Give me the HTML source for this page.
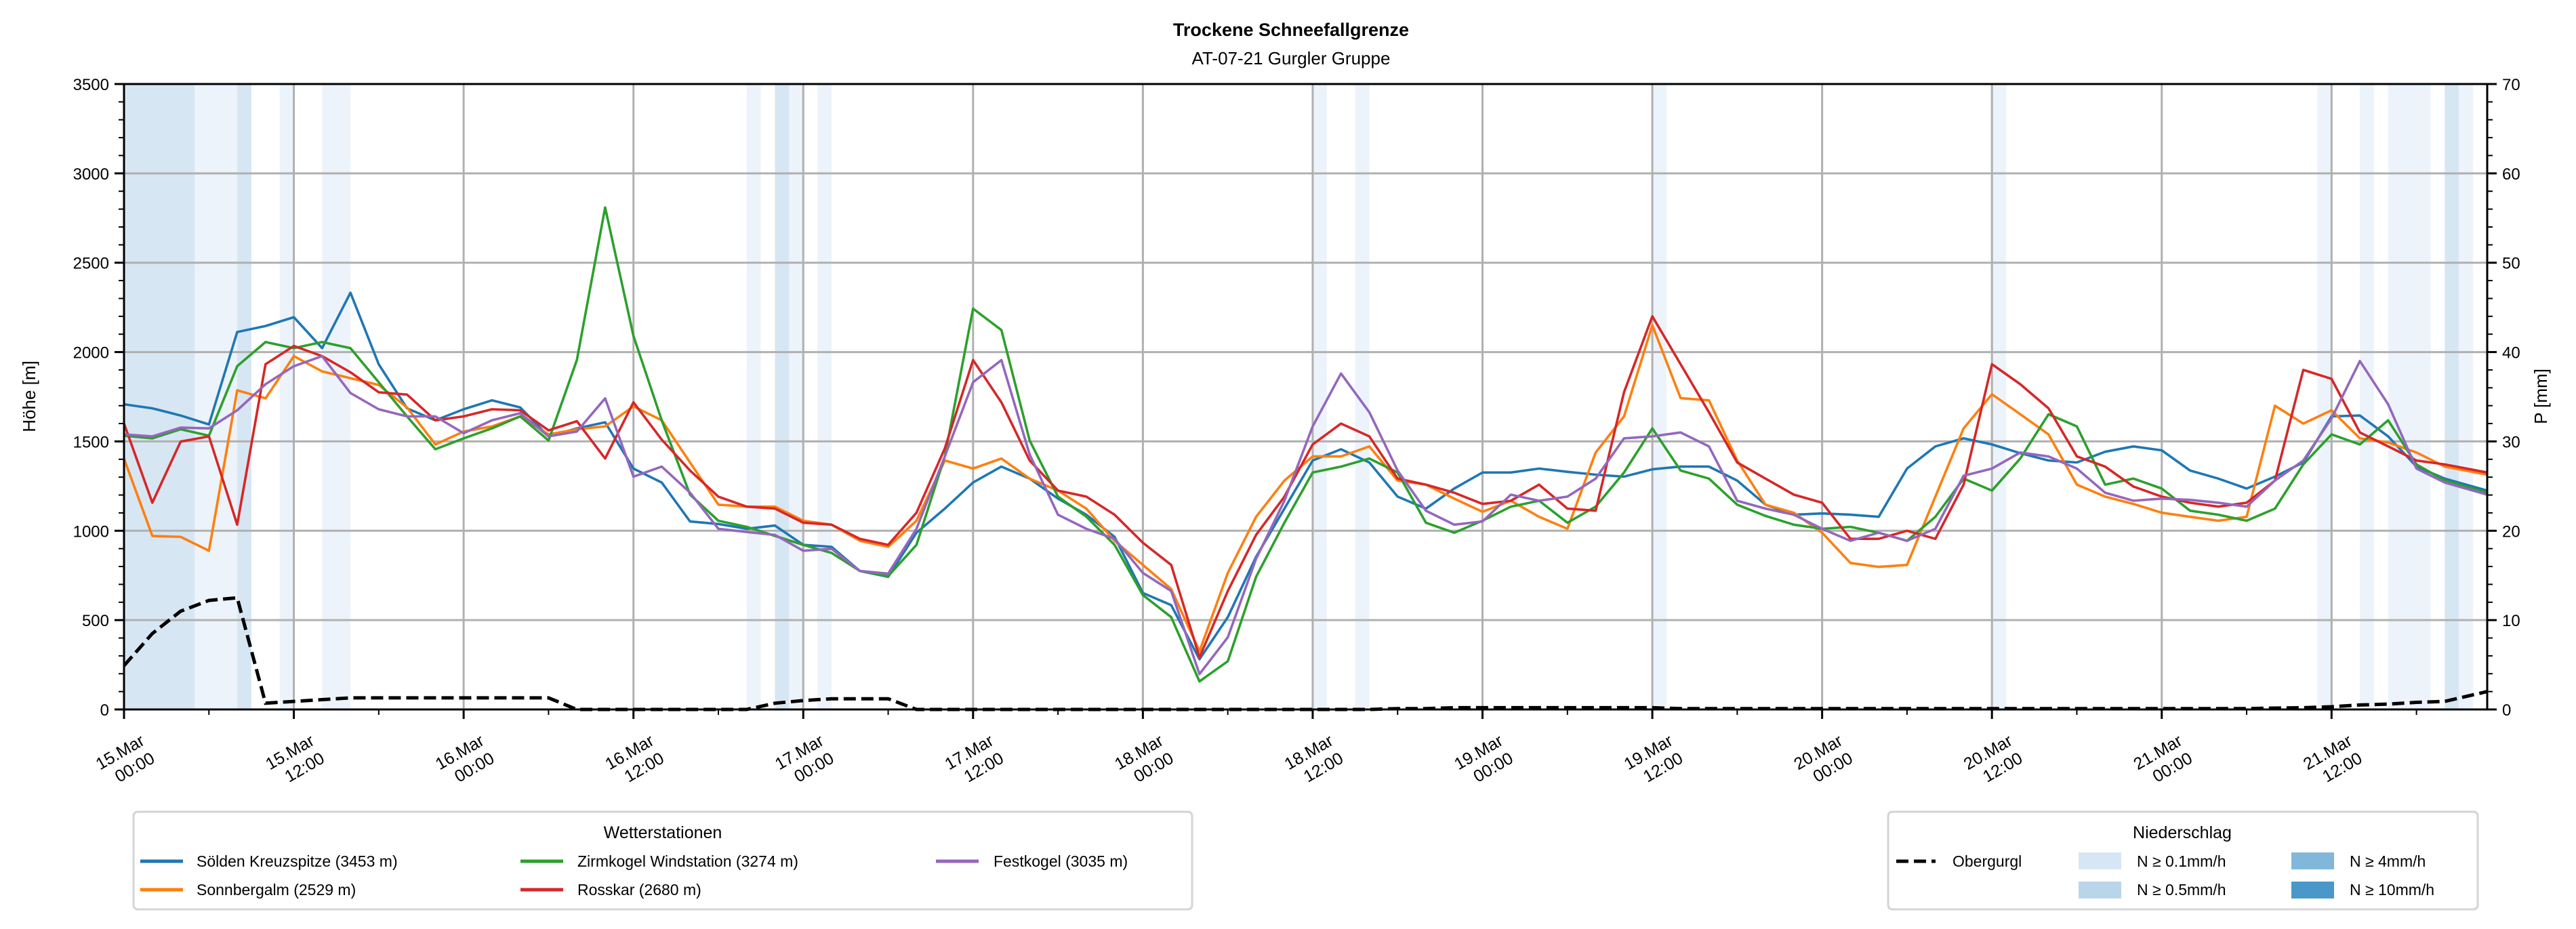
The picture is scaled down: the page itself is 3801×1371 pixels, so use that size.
<!DOCTYPE html>
<html><head><meta charset="utf-8"><style>
html,body{margin:0;padding:0;background:#fff}
svg{display:block;font-family:"Liberation Sans","DejaVu Sans",sans-serif}
</style></head><body>
<svg id="chart" width="3801" height="1371" viewBox="0 0 3801 1371">
<g id="bands"></g>
<g id="grid"></g>
<g id="series"></g>
<g id="axes"></g>
<text x="1905" y="53" text-anchor="middle" font-size="27" font-weight="bold">Trockene Schneefallgrenze</text>
<text x="1905" y="95" text-anchor="middle" font-size="26">AT-07-21 Gurgler Gruppe</text>
<text transform="translate(52,585) rotate(-90)" text-anchor="middle" font-size="26">Höhe [m]</text>
<text transform="translate(3758,585) rotate(-90)" text-anchor="middle" font-size="26">P [mm]</text>

<g>
<rect x="197" y="1198" width="1562" height="144" rx="6" fill="#fff" stroke="#d4d4d4" stroke-width="3"/>
<text x="978" y="1237" text-anchor="middle" font-size="25">Wetterstationen</text>
<g><line x1="207" x2="270" y1="1271" y2="1271" stroke="#1f77b4" stroke-width="5"/><text x="290" y="1279" font-size="23">Sölden Kreuzspitze (3453 m)</text></g>
<g><line x1="207" x2="270" y1="1313" y2="1313" stroke="#ff7f0e" stroke-width="5"/><text x="290" y="1321" font-size="23">Sonnbergalm (2529 m)</text></g>
<g><line x1="768" x2="831" y1="1271" y2="1271" stroke="#2ca02c" stroke-width="5"/><text x="852" y="1279" font-size="23">Zirmkogel Windstation (3274 m)</text></g>
<g><line x1="768" x2="831" y1="1313" y2="1313" stroke="#d62728" stroke-width="5"/><text x="852" y="1321" font-size="23">Rosskar (2680 m)</text></g>
<g><line x1="1381" x2="1444" y1="1271" y2="1271" stroke="#9467bd" stroke-width="5"/><text x="1466" y="1279" font-size="23">Festkogel (3035 m)</text></g>
</g>

<g>
<rect x="2786" y="1198" width="870" height="144" rx="6" fill="#fff" stroke="#d4d4d4" stroke-width="3"/>
<text x="3220" y="1237" text-anchor="middle" font-size="25">Niederschlag</text>
<g><line x1="2798" x2="2856" y1="1271" y2="1271" stroke="#000" stroke-width="5" stroke-dasharray="18,8"/><text x="2881" y="1279" font-size="23">Obergurgl</text></g>
<g><rect x="3067" y="1258" width="63" height="25" fill="#d6e6f4"/><text x="3153" y="1279" font-size="23">N ≥ 0.1mm/h</text></g>
<g><rect x="3067" y="1301" width="63" height="25" fill="#b9d5ea"/><text x="3153" y="1321" font-size="23">N ≥ 0.5mm/h</text></g>
<g><rect x="3381" y="1258" width="63" height="25" fill="#80b7da"/><text x="3467" y="1279" font-size="23">N ≥ 4mm/h</text></g>
<g><rect x="3381" y="1301" width="63" height="25" fill="#4a98c9"/><text x="3467" y="1321" font-size="23">N ≥ 10mm/h</text></g>
</g>
</svg>
<script>
const hours = [0,2,4,6,8,10,12,14,16,18,20,22,24,26,28,30,32,34,36,38,40,42,44,46,48,50,52,54,56,58,60,62,64,66,68,70,72,74,76,78,80,82,84,86,88,90,92,94,96,98,100,102,104,106,108,110,112,114,116,118,120,122,124,126,128,130,132,134,136,138,140,142,144,146,148,150,152,154,156,158,160,162,164,167];
const soelden = [1708,1685,1645,1595,2112,2146,2195,2022,2332,1932,1685,1618,1680,1730,1690,1528,1573,1607,1348,1270,1052,1038,
 1011,1029,921,910,775,742,989,1124,1270,1359,1292,1180,1090,966,652,584,281,517,854,1124,1393,
 1456,1382,1191,1124,1236,1326,1326,1348,1330,1314,1303,1344,1359,1359,1281,1146,1090,1097,1090,1078,1348,
 1472,1517,1483,1434,1393,1382,1442,1472,1450,1337,1292,1236,1303,1382,1640,1645,1528,1359,1292,1225];
const sonnbergalm = [1404,971,966,888,1786,1741,1977,1892,1854,1816,1690,1483,1555,1584,1640,1539,1568,1584,1696,1618,1382,1146,
 1135,1135,1056,1034,944,910,1056,1393,1348,1404,1292,1225,1124,944,809,674,326,764,1078,1281,1416,
 1416,1472,1281,1258,1180,1106,1168,1078,1011,1438,1640,2150,1742,1730,1393,1146,1101,989,820,798,809,
 1191,1573,1764,1652,1539,1258,1191,1150,1101,1078,1056,1078,1700,1600,1674,1517,1494,1438,1359,1314];
const zirmkogel = [1532,1517,1568,1532,1921,2056,2022,2056,2022,1831,1640,1456,1517,1573,1640,1505,1955,2809,2090,1618,1202,1056,
 1022,971,921,876,775,746,921,1416,2243,2123,1505,1191,1079,921,640,517,157,270,742,1045,1326,
 1359,1404,1326,1045,989,1056,1135,1168,1045,1135,1326,1573,1337,1292,1146,1083,1034,1011,1022,989,944,
 1078,1292,1225,1404,1652,1584,1258,1292,1236,1112,1090,1056,1124,1371,1539,1483,1618,1371,1281,1213];
const rosskar = [1600,1157,1499,1528,1034,1932,2034,1977,1887,1775,1762,1618,1640,1680,1674,1562,1613,1404,1719,1510,1337,1191,
 1135,1124,1045,1034,955,921,1101,1461,1955,1719,1393,1225,1191,1090,933,809,292,663,977,1191,1483,
 1600,1528,1292,1258,1213,1150,1168,1258,1124,1112,1775,2200,1932,1663,1382,1292,1202,1157,955,955,1000,
 955,1258,1932,1820,1685,1416,1359,1247,1191,1157,1135,1157,1281,1900,1850,1550,1472,1393,1371,1326];
const festkogel = [1539,1528,1577,1573,1674,1820,1921,1977,1771,1680,1640,1640,1546,1618,1658,1528,1555,1741,1303,1359,1213,1011,
 993,977,888,899,775,760,1011,1416,1831,1955,1427,1090,1011,955,764,663,198,404,843,1168,1584,
 1880,1663,1337,1112,1034,1052,1202,1168,1191,1292,1517,1528,1550,1472,1168,1124,1090,1011,944,989,944,
 1011,1308,1348,1438,1416,1348,1213,1168,1180,1173,1157,1135,1281,1393,1629,1950,1708,1348,1270,1202];
const precipObergurgl = [4.9,8.5,11,12.2,12.5,0.7,0.9,1.1,1.3,1.3,1.3,1.3,1.3,1.3,1.3,1.3,0,0,0,0,0,0,
 0,0.7,1.0,1.2,1.2,1.2,0,0,0,0,0,0,0,0,0,0,0,0,0,0,0,
 0,0,0.1,0.1,0.2,0.2,0.2,0.2,0.2,0.2,0.2,0.2,0.1,0.1,0.1,0.1,0.1,0.1,0.1,0.1,0.1,
 0.1,0.1,0.1,0.1,0.1,0.1,0.1,0.1,0.1,0.1,0.1,0.1,0.15,0.2,0.3,0.5,0.6,0.8,0.9,2.0];
const bandStart = [0,5,8,11,14,44,46,47,49,84,87,108,132,155,158,160,164,165];
const bandEnd   = [5,8,9,12,16,45,47,48,50,85,88,109,133,156,159,163,165,166];
const bandLevel = [1,0,1,0,0,0,1,0,0,0,0,0,0,0,0,0,1,0];
const yTicks = [0,500,1000,1500,2000,2500,3000,3500];
const y2Ticks = [0,10,20,30,40,50,60,70];
const xTickHours = [0,12,24,36,48,60,72,84,96,108,120,132,144,156];
const xTickLabels = [["15.Mar","00:00"],["15.Mar","12:00"],["16.Mar","00:00"],["16.Mar","12:00"],["17.Mar","00:00"],["17.Mar","12:00"],["18.Mar","00:00"],["18.Mar","12:00"],["19.Mar","00:00"],["19.Mar","12:00"],["20.Mar","00:00"],["20.Mar","12:00"],["21.Mar","00:00"],["21.Mar","12:00"]];

const L=183,R=3670,T=124,B=1047,XMAX=167;
const NS="http://www.w3.org/2000/svg";
const X=h=>L+(R-L)*h/XMAX;
const Y=v=>B-(B-T)*v/3500;
const Y2=v=>B-(B-T)*v/70;
function mk(tag,attrs,parent){const e=document.createElementNS(NS,tag);for(const k in attrs)e.setAttribute(k,attrs[k]);parent.appendChild(e);return e;}
const gB=document.getElementById('bands'),gG=document.getElementById('grid'),gS=document.getElementById('series'),gA=document.getElementById('axes');
const bandColors=['#edf3fa','#d7e6f3'];
bandStart.forEach((s,i)=>{
  const r=mk('rect',{x:X(s),y:T,width:X(bandEnd[i])-X(s),height:B-T,fill:bandColors[bandLevel[i]]},gB);
  
  
});
yTicks.forEach(v=>{
  const l=mk('line',{x1:L,x2:R,y1:Y(v),y2:Y(v),stroke:'#b0b0b0','stroke-width':3},gG);
  
  
});
xTickHours.forEach(h=>{
  const l=mk('line',{x1:X(h),x2:X(h),y1:T,y2:B,stroke:'#b0b0b0','stroke-width':3},gG);
  
  
});
const series=[[soelden,'#1f77b4','soelden-line'],[sonnbergalm,'#ff7f0e','sonnbergalm-line'],[zirmkogel,'#2ca02c','zirmkogel-line'],[rosskar,'#d62728','rosskar-line'],[festkogel,'#9467bd','festkogel-line']];
series.forEach(s=>{
  const d=s[0].map((v,i)=>(i?'L':'M')+X(hours[i]).toFixed(1)+','+Y(v).toFixed(1)).join('');
  const p=mk('path',{d:d,fill:'none',stroke:s[1],'stroke-width':3.6,'stroke-linejoin':'round'},gS);
  
  
});
{
  const d=precipObergurgl.map((v,i)=>(i?'L':'M')+X(hours[i]).toFixed(1)+','+Y2(v).toFixed(1)).join('');
  const p=mk('path',{d:d,fill:'none',stroke:'#000','stroke-width':5,'stroke-dasharray':'18,8'},gS);
  
  
}
mk('rect',{x:L,y:T,width:R-L,height:B-T,fill:'none',stroke:'#000','stroke-width':3},gA);
yTicks.forEach(v=>{
  mk('line',{x1:L-14,x2:L,y1:Y(v),y2:Y(v),stroke:'#000','stroke-width':3},gA);
  const t=mk('text',{x:L-22,y:Y(v)+9,'text-anchor':'end','font-size':24},gA);
  t.textContent=v;
  
  
});
for(let v=0;v<=3500;v+=100){if(v%500)mk('line',{x1:L-8,x2:L,y1:Y(v),y2:Y(v),stroke:'#000','stroke-width':2},gA);}
y2Ticks.forEach(v=>{
  mk('line',{x1:R,x2:R+14,y1:Y2(v),y2:Y2(v),stroke:'#000','stroke-width':3},gA);
  const t=mk('text',{x:R+22,y:Y2(v)+9,'text-anchor':'start','font-size':24},gA);
  t.textContent=v;
  
  
});
for(let v=0;v<=70;v+=2){if(v%10)mk('line',{x1:R,x2:R+8,y1:Y2(v),y2:Y2(v),stroke:'#000','stroke-width':2},gA);}
xTickHours.forEach((h,i)=>{
  const x=X(h);
  mk('line',{x1:x,x2:x,y1:B,y2:B+14,stroke:'#000','stroke-width':3},gA);
  mk('line',{x1:X(h+6),x2:X(h+6),y1:B,y2:B+8,stroke:'#000','stroke-width':2},gA);
  const t1=mk('text',{x:x+32,y:1098,'text-anchor':'end','font-size':25,transform:`rotate(-30 ${x+32} 1098)`},gA);
  t1.textContent=xTickLabels[i][0];
  
  
  const t2=mk('text',{x:x+47,y:1124,'text-anchor':'end','font-size':25,transform:`rotate(-30 ${x+47} 1124)`},gA);
  t2.textContent=xTickLabels[i][1];
  
  
});
</script>
</body></html>
